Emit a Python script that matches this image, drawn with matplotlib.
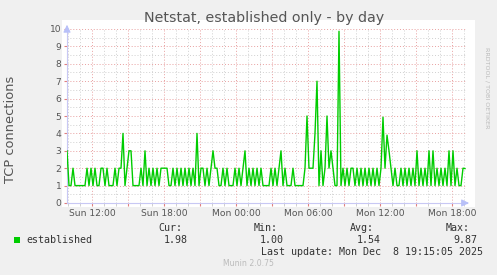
import matplotlib
matplotlib.use("Agg")
import matplotlib.pyplot as plt
from matplotlib.ticker import MultipleLocator, FuncFormatter
from matplotlib.patches import Rectangle

# ---- data (5-min Munin samples resampled to 10-min steps) ----
start_hour = 9.9167          # Sun 09:55 expressed in hours since Sun 00:00
step_hours = 1.0 / 6.0       # 10 minutes
established = [
    3, 1, 1, 2, 1, 1, 1, 1, 1, 1,
    2, 1, 2, 1, 2, 1, 1, 2, 2, 1,
    2, 1, 1, 1, 2, 1, 2, 2, 4, 1,
    2, 3, 3, 1, 1, 1, 1, 2, 1, 3,
    1, 2, 1, 2, 1, 2, 1, 2, 2, 2,
    2, 1, 1, 2, 1, 2, 1, 2, 1, 2,
    1, 2, 1, 2, 1, 4, 1, 2, 2, 1,
    2, 1, 2, 3, 2, 2, 1, 1, 2, 1,
    2, 1, 1, 1, 2, 1, 2, 1, 2, 3,
    1, 2, 1, 2, 1, 2, 1, 2, 1, 1,
    1, 1, 2, 1, 2, 1, 2, 3, 1, 2,
    1, 1, 1, 2, 1, 1, 1, 1, 1, 2,
    5, 2, 2, 2, 4, 7, 1, 3, 1, 2,
    5, 2, 3, 2, 1, 1, 9.87, 1, 2, 1,
    2, 1, 2, 2, 1, 2, 1, 2, 1, 2,
    1, 2, 1, 2, 1, 2, 1, 2, 4.93, 2,
    3.9, 3, 2, 1, 2, 1, 1, 2, 1, 2,
    1, 2, 1, 2, 1, 3, 1, 2, 1, 2,
    1, 3, 1, 3, 1, 2, 1, 2, 1, 2,
    1, 3, 1, 3, 1, 2, 1, 1, 2, 1.98,
]
x_start, x_end = 9.9167, 43.25
tick_hours = [12, 18, 24, 30, 36, 42]
tick_labels = ["Sun 12:00", "Sun 18:00", "Mon 00:00", "Mon 06:00", "Mon 12:00", "Mon 18:00"]
legend_name = "established"
stats_labels = ["Cur:", "Min:", "Avg:", "Max:"]
stats_values = ["1.98", "1.00", "1.54", "9.87"]

W, H = 497, 275
fig = plt.figure(figsize=(W / 100, H / 100), dpi=100, facecolor="#F0F0F0")

def fx(px):
    return px / W

def fy(py):
    return 1 - py / H

# white canvas behind the graph
fig.patches.append(Rectangle((fx(62), fy(207)), fx(475) - fx(62), fy(20) - fy(207),
                             transform=fig.transFigure, facecolor="white",
                             edgecolor="none", zorder=0))

ax = fig.add_axes([fx(67), fy(203), fx(467) - fx(67), fy(29) - fy(203)])
ax.set_facecolor("white")
ax.set_zorder(1)

times = [start_hour + i * step_hours for i in range(len(established))]
ax.plot(times, established, color="#00CC00", lw=1.0, zorder=3)

ax.set_xlim(x_start, x_end)
ax.set_ylim(0, 10)

# grid
ax.xaxis.set_major_locator(MultipleLocator(3))
ax.xaxis.set_minor_locator(MultipleLocator(1))
ax.yaxis.set_major_locator(MultipleLocator(1))
ax.yaxis.set_minor_locator(MultipleLocator(0.5))
dots = (0, (1, 2))
ax.grid(which="major", color="#E8A0A0", lw=0.7, linestyle=dots, zorder=1)
ax.grid(which="minor", color="#D0D0D0", lw=0.7, linestyle=dots, zorder=1)
ax.set_axisbelow(True)

lab_map = dict(zip(tick_hours, tick_labels))
ax.xaxis.set_major_formatter(FuncFormatter(lambda v, p: lab_map.get(int(round(v)), "")
                                           if abs(v - round(v)) < 1e-6 else ""))
ax.yaxis.set_major_formatter(FuncFormatter(lambda v, p: f"{int(round(v))}"))
ax.tick_params(axis="x", which="major", length=2, color="#E08080", labelsize=6.6,
               labelcolor="#555555", pad=2)
ax.tick_params(axis="x", which="minor", length=2, color="#C8C8C8")
ax.tick_params(axis="y", which="major", length=2, color="#E08080", labelsize=6.6,
               labelcolor="#555555", pad=2)
ax.tick_params(axis="y", which="minor", length=0)

for s in ["top", "right"]:
    ax.spines[s].set_visible(False)
for s in ["left", "bottom"]:
    ax.spines[s].set_color("#C8C8F4")
    ax.spines[s].set_linewidth(0.8)

# axis arrows
arrow_color = "#B8C0F8"
ax.annotate("", xy=(1.012, 0), xytext=(0.99, 0), xycoords="axes fraction",
            arrowprops=dict(arrowstyle="-|>,head_length=0.45,head_width=0.22",
                            color=arrow_color, lw=0.7), annotation_clip=False)
ax.annotate("", xy=(0, 1.04), xytext=(0, 0.99), xycoords="axes fraction",
            arrowprops=dict(arrowstyle="-|>,head_length=0.45,head_width=0.22",
                            color=arrow_color, lw=0.7), annotation_clip=False)

# titles
fig.text(fx(264), fy(18), "Netstat, established only - by day", ha="center", va="center",
         fontsize=10.3, color="#555555")
fig.text(fx(11), fy(129), "TCP connections", ha="center", va="center", rotation=90,
         fontsize=9.4, color="#555555")
fig.text(fx(487), fy(88), "RRDTOOL / TOBI OETIKER", ha="center", va="center", rotation=270,
         fontsize=4.6, color="#BBBBBB")

# legend area
mono = "DejaVu Sans Mono"
fig.patches.append(Rectangle((fx(14), fy(243)), fx(6), 6 / H, transform=fig.transFigure,
                             facecolor="#00CC00", edgecolor="none"))
fig.text(fx(26), fy(240), legend_name, ha="left", va="center", family=mono,
         fontsize=7.2, color="#333333")
label_right = [182, 278, 374, 470]
value_right = [188, 284, 381, 477]
for lab, xr in zip(stats_labels, label_right):
    fig.text(fx(xr), fy(228), lab, ha="right", va="center", family=mono, fontsize=7.2,
             color="#333333")
for val, xr in zip(stats_values, value_right):
    fig.text(fx(xr), fy(240), val, ha="right", va="center", family=mono, fontsize=7.2,
             color="#333333")
fig.text(fx(483), fy(252), "Last update: Mon Dec  8 19:15:05 2025", ha="right", va="center",
         family=mono, fontsize=7.2, color="#333333")
fig.text(fx(248), fy(264), "Munin 2.0.75", ha="center", va="center", fontsize=5.6,
         color="#BBBBBB")

fig.savefig("out.png", dpi=100, facecolor=fig.get_facecolor())
